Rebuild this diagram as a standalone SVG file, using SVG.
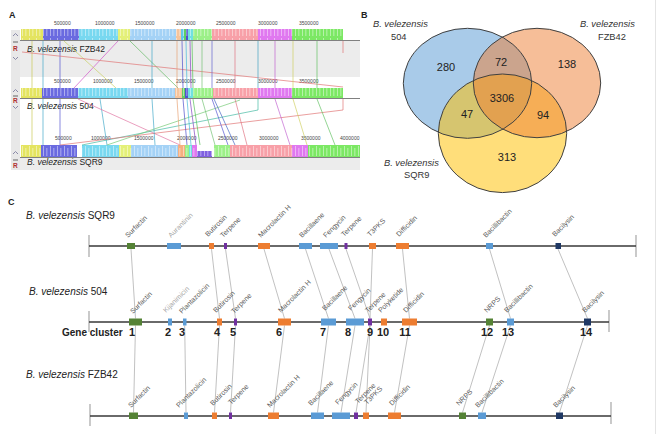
<svg xmlns="http://www.w3.org/2000/svg" width="663" height="434" viewBox="0 0 663 434">
<style>
text{font-family:"Liberation Sans",Arial,sans-serif}
.pl{font-weight:bold;font-size:9px;fill:#222}
.rl{font-size:5px;fill:#444}
.tl{font-size:8.5px;fill:#222}
.vl{font-size:9.3px;fill:#333}
.vn{font-size:11px;fill:#222;text-anchor:middle}
.sl{font-size:10px;fill:#222}
.gl{font-size:7px;fill:#595959}
.gll{font-size:7px;fill:#a6a6a6}
.num{font-size:11px;font-weight:bold;fill:#222;text-anchor:middle}
.trk{stroke:#383838;stroke-width:1.4}
.tick{stroke:#a6a6a6;stroke-width:1.2}
.cn{stroke:#a6a6a6;stroke-width:0.7;fill:none}
.g{fill:#548235}.b{fill:#5b9bd5}.o{fill:#ed7d31}.p{fill:#7030a0}.n{fill:#1f3864}
.al{fill:none;stroke-width:0.8;opacity:0.85}
.ab{stroke:none}
.aline{stroke:#606060;stroke-width:0.8}
</style>
<defs>
<pattern id="hatch" width="7" height="12" patternUnits="userSpaceOnUse">
<rect x="1" y="2" width="1" height="10" fill="#fff" opacity="0.45"/>
<rect x="4" y="4" width="1.5" height="8" fill="#fff" opacity="0.3"/>
</pattern>
</defs>
<rect width="663" height="434" fill="#fff"/>
<line x1="655.5" y1="0" x2="655.5" y2="434" stroke="#e4e4e4" stroke-width="1"/>

<!-- Panel A -->
<g id="panelA">
<text class="pl" x="9" y="18">A</text>
<rect x="11" y="30" width="9" height="140" fill="#e8e8e8"/>
<rect x="20" y="41" width="340" height="36" fill="#ececec"/>
<rect x="20" y="158" width="340" height="12" fill="#ececec"/>
<g id="ruler1" class="rl">
<text x="54" y="25">500000</text><text x="95" y="25">1000000</text><text x="135" y="25">1500000</text><text x="176" y="25">2000000</text><text x="216" y="25">2500000</text><text x="258" y="25">3000000</text><text x="299" y="25">3500000</text>
</g>
<g id="ruler2" class="rl">
<text x="54" y="83">500000</text><text x="93" y="83">1000000</text><text x="134" y="83">1500000</text><text x="176" y="83">2000000</text><text x="216" y="83">2500000</text><text x="258" y="83">3000000</text><text x="299" y="83">3500000</text>
</g>
<g id="ruler3" class="rl">
<text x="55" y="140">500000</text><text x="91" y="140">1000000</text><text x="134" y="140">1500000</text><text x="177" y="140">2000000</text><text x="218" y="140">2500000</text><text x="259" y="140">3000000</text><text x="301" y="140">3500000</text><text x="340" y="140">4000000</text>
</g>
<g id="blocks1" class="ab">
<rect x="21" y="29" width="22" height="11" fill="#e4e460"/>
<rect x="43" y="29" width="36" height="11" fill="#6a6ae0"/>
<rect x="79" y="29" width="39" height="11" fill="#78d8f0"/>
<rect x="118" y="29" width="12" height="11" fill="#e4f078"/>
<rect x="130" y="29" width="46" height="11" fill="#a4d2f6"/>
<rect x="176" y="29" width="5" height="11" fill="#f6c49c"/>
<rect x="181" y="29" width="3" height="11" fill="#60c8e8"/>
<rect x="184" y="29" width="2" height="11" fill="#60d060"/>
<rect x="186" y="29" width="2" height="11" fill="#5050d0"/>
<rect x="188" y="29" width="5" height="11" fill="#70e0e0"/>
<rect x="193" y="29" width="19" height="11" fill="#9cf088"/>
<rect x="212" y="29" width="46" height="11" fill="#f8a0a8"/>
<rect x="258" y="29" width="34" height="11" fill="#e078f0"/>
<rect x="292" y="29" width="51" height="11" fill="#7ce864"/>
<rect x="21" y="29" width="322" height="11" fill="url(#hatch)"/>
</g>
<g id="blocks2" class="ab">
<rect x="21" y="88" width="21" height="10" fill="#e4e460"/>
<rect x="42" y="88" width="36" height="10" fill="#6a6ae0"/>
<rect x="78" y="88" width="50" height="10" fill="#78d8f0"/>
<rect x="128" y="88" width="47" height="10" fill="#a4d2f6"/>
<rect x="175" y="88" width="7" height="10" fill="#f6c49c"/>
<rect x="182" y="88" width="3" height="10" fill="#60d060"/>
<rect x="185" y="88" width="3" height="10" fill="#5050d0"/>
<rect x="188" y="88" width="5" height="10" fill="#70e0e0"/>
<rect x="193" y="88" width="20" height="10" fill="#9cf088"/>
<rect x="213" y="88" width="45" height="10" fill="#f8a0a8"/>
<rect x="258" y="88" width="34" height="10" fill="#e078f0"/>
<rect x="292" y="88" width="51" height="10" fill="#7ce864"/>
<rect x="21" y="88" width="322" height="10" fill="url(#hatch)"/>
</g>
<g id="blocks3" class="ab">
<rect x="21" y="145" width="20" height="12" fill="#e4e460"/>
<rect x="41" y="145" width="36" height="12" fill="#6a6ae0"/>
<rect x="82" y="145" width="37" height="12" fill="#78d8f0"/>
<rect x="119" y="145" width="12" height="12" fill="#e4f078"/>
<rect x="131" y="145" width="47" height="12" fill="#a4d2f6"/>
<rect x="178" y="145" width="7" height="12" fill="#f6b080"/>
<rect x="185" y="145" width="4" height="12" fill="#9cf088"/>
<rect x="189" y="145" width="3" height="12" fill="#70e0e0"/>
<rect x="192" y="145" width="5" height="12" fill="#e078f0"/>
<rect x="197" y="151" width="15" height="6" fill="#8060e0"/>
<rect x="214" y="145" width="16" height="12" fill="#9cf088"/>
<rect x="230" y="145" width="62" height="12" fill="#f8a0a8"/>
<rect x="292" y="145" width="16" height="12" fill="#e078f0"/>
<rect x="308" y="145" width="52" height="12" fill="#7ce864"/>
<rect x="21" y="145" width="339" height="12" fill="url(#hatch)"/>
</g>
<line class="aline" x1="20" y1="40.5" x2="360" y2="40.5"/>
<line class="aline" x1="20" y1="98.5" x2="360" y2="98.5"/>
<line class="aline" x1="20" y1="157.5" x2="360" y2="157.5"/>
<g id="controls" fill="none" stroke="#8a8aa8" stroke-width="1">
<polyline points="13,36 15.5,33.5 18,36"/><line x1="13" y1="42" x2="18" y2="42" stroke="#666"/><polyline points="13,57 15.5,59.5 18,57"/>
<polyline points="13,92 15.5,89.5 18,92"/><line x1="13" y1="96" x2="18" y2="96" stroke="#666"/><polyline points="13,106 15.5,108.5 18,106"/>
<polyline points="13,154 15.5,151.5 18,154"/><line x1="13" y1="160" x2="18" y2="160" stroke="#666"/>
</g>
<g font-size="6.5" font-weight="bold" fill="#b03030">
<text x="13" y="51">R</text><text x="13" y="103">R</text><text x="13" y="168">R</text>
</g>
<text class="tl" x="27" y="52"><tspan font-style="italic">B. velezensis</tspan> FZB42</text>
<text class="tl" x="27" y="109"><tspan font-style="italic">B. velezensis</tspan> 504</text>
<text class="tl" x="27" y="165"><tspan font-style="italic">B. velezensis</tspan> SQR9</text>
</g>
<g id="alignment-links">
<line class="al" stroke="#c8c850" x1="32" y1="41" x2="32" y2="88"/>
<line class="al" stroke="#40a8c8" x1="43" y1="41" x2="43" y2="88"/>
<line class="al" stroke="#5050d0" x1="60" y1="41" x2="60" y2="88"/>
<line class="al" stroke="#d050c8" x1="118" y1="41" x2="74" y2="88"/>
<line class="al" stroke="#c8d060" x1="64" y1="41" x2="116" y2="88"/>
<line class="al" stroke="#60b860" x1="130" y1="41" x2="178" y2="88"/>
<line class="al" stroke="#40a8c8" x1="152" y1="41" x2="152" y2="88"/>
<line class="al" stroke="#e07070" x1="343" y1="41" x2="343" y2="53"/>
<line class="al" stroke="#e07070" x1="22" y1="52" x2="343" y2="87"/>
<line class="al" stroke="#e8a070" x1="177" y1="41" x2="177" y2="88"/>
<line class="al" stroke="#4848c8" x1="182" y1="41" x2="183" y2="88"/>
<line class="al" stroke="#40b8d8" x1="186" y1="41" x2="187" y2="88"/>
<line class="al" stroke="#8040c0" x1="190" y1="41" x2="191" y2="88"/>
<line class="al" stroke="#50c050" x1="192" y1="41" x2="193" y2="88"/>
<line class="al" stroke="#70c070" x1="202" y1="41" x2="202" y2="88"/>
<line class="al" stroke="#6060d0" x1="212" y1="41" x2="212" y2="88"/>
<line class="al" stroke="#e07080" x1="235" y1="41" x2="235" y2="88"/>
<line class="al" stroke="#40a0c0" x1="258" y1="41" x2="258" y2="88"/>
<line class="al" stroke="#c060d0" x1="275" y1="41" x2="275" y2="88"/>
<line class="al" stroke="#d0d060" x1="293" y1="41" x2="293" y2="88"/>
<line class="al" stroke="#60c060" x1="317" y1="41" x2="317" y2="88"/>

<line class="al" stroke="#c8c850" x1="32" y1="99" x2="32" y2="145"/>
<line class="al" stroke="#40a8c8" x1="43" y1="99" x2="43" y2="145"/>
<line class="al" stroke="#5050d0" x1="60" y1="99" x2="60" y2="145"/>
<line class="al" stroke="#40a8c8" x1="100" y1="99" x2="107" y2="145"/>
<line class="al" stroke="#e070a0" x1="78" y1="99" x2="180" y2="145"/>
<polyline class="al" stroke="#40b8a0" points="258,99 258,110 82,145"/>
<line class="al" stroke="#70c870" x1="240" y1="100" x2="107" y2="145"/>
<polyline class="al" stroke="#e07070" points="343,99 343,110 60,145"/>
<line class="al" stroke="#e07080" x1="235" y1="99" x2="247" y2="145"/>
<line class="al" stroke="#c060d0" x1="275" y1="99" x2="290" y2="145"/>
<line class="al" stroke="#d0d060" x1="293" y1="99" x2="307" y2="145"/>
<line class="al" stroke="#60c060" x1="317" y1="99" x2="335" y2="145"/>
<line class="al" stroke="#70c070" x1="202" y1="99" x2="215" y2="145"/>
<line class="al" stroke="#5050d0" x1="212" y1="99" x2="228" y2="145"/>
<line class="al" stroke="#4060c0" x1="214" y1="99" x2="235" y2="145"/>
<line class="al" stroke="#e8a070" x1="177" y1="99" x2="180" y2="145"/>
<line class="al" stroke="#4848c8" x1="183" y1="99" x2="187" y2="145"/>
<line class="al" stroke="#40b8d8" x1="187" y1="99" x2="191" y2="145"/>
<line class="al" stroke="#8040c0" x1="190" y1="99" x2="196" y2="145"/>
<line class="al" stroke="#50c050" x1="193" y1="99" x2="200" y2="145"/>
<line class="al" stroke="#40a8c8" x1="152" y1="99" x2="155" y2="145"/>
</g>

<!-- Panel B -->
<g id="panelB">
<text class="pl" x="361" y="18">B</text>
<g id="venn-504"><ellipse cx="467.5" cy="83.3" rx="64.2" ry="55" fill="#5b9bd5" fill-opacity="0.52"/></g>
<g id="venn-SQR9"><ellipse cx="502.5" cy="133.3" rx="64.2" ry="59.3" fill="#ffc000" fill-opacity="0.52"/></g>
<g id="venn-FZB42"><ellipse cx="537" cy="83" rx="63.7" ry="54.7" fill="#ed7d31" fill-opacity="0.5"/></g>
<g fill="none" stroke="#404040" stroke-width="1">
<ellipse cx="467.5" cy="83.3" rx="64.2" ry="55"/>
<ellipse cx="502.5" cy="133.3" rx="64.2" ry="59.3"/>
<ellipse cx="537" cy="83" rx="63.7" ry="54.7"/>
</g>
<text class="vl" x="373" y="27" font-style="italic">B. velezensis</text>
<text class="vl" x="391" y="40">504</text>
<text class="vl" x="580" y="27" font-style="italic">B. velezensis</text>
<text class="vl" x="598" y="40">FZB42</text>
<text class="vl" x="384" y="166" font-style="italic">B. velezensis</text>
<text class="vl" x="404" y="178">SQR9</text>
<text class="vn" x="446" y="71">280</text>
<text class="vn" x="501" y="66">72</text>
<text class="vn" x="567" y="68">138</text>
<text class="vn" x="502" y="102">3306</text>
<text class="vn" x="467" y="118">47</text>
<text class="vn" x="543" y="119">94</text>
<text class="vn" x="507" y="161">313</text>
</g>

<!-- Panel C -->
<g id="panelC">
<text class="pl" x="8" y="205">C</text>
<text class="sl" x="26" y="219"><tspan font-style="italic">B. velezensis</tspan> SQR9</text>
<text class="sl" x="29" y="295"><tspan font-style="italic">B. velezensis</tspan> 504</text>
<text class="sl" x="26" y="378"><tspan font-style="italic">B. velezensis</tspan> FZB42</text>
<text x="62" y="336" font-size="10" font-weight="bold" fill="#222">Gene cluster</text>
</g>

<g id="connectors">
<line class="cn" x1="131" y1="249" x2="135.5" y2="318.5"/>
<line class="cn" x1="211.5" y1="249" x2="219.5" y2="318.5"/>
<line class="cn" x1="225.5" y1="249" x2="235.5" y2="318.5"/>
<line class="cn" x1="264" y1="249" x2="284.5" y2="318.5"/>
<line class="cn" x1="305.5" y1="249" x2="328.5" y2="318.5"/>
<line class="cn" x1="329" y1="249" x2="355" y2="318.5"/>
<line class="cn" x1="346" y1="249" x2="370" y2="318.5"/>
<line class="cn" x1="372.5" y1="249" x2="370" y2="318.5"/>
<line class="cn" x1="402.5" y1="249" x2="409.5" y2="318.5"/>
<line class="cn" x1="489.5" y1="249" x2="510.5" y2="318.5"/>
<line class="cn" x1="558" y1="249" x2="587.5" y2="318.5"/>
<line class="cn" x1="135.5" y1="325.5" x2="133.5" y2="412.5"/>
<line class="cn" x1="184.7" y1="325.5" x2="186" y2="412.5"/>
<line class="cn" x1="219.5" y1="325.5" x2="214.5" y2="412.5"/>
<line class="cn" x1="235.5" y1="325.5" x2="230.5" y2="412.5"/>
<line class="cn" x1="284.5" y1="325.5" x2="273.5" y2="412.5"/>
<line class="cn" x1="328.5" y1="325.5" x2="317.5" y2="412.5"/>
<line class="cn" x1="355" y1="325.5" x2="341" y2="412.5"/>
<line class="cn" x1="370" y1="325.5" x2="356" y2="412.5"/>
<line class="cn" x1="370" y1="325.5" x2="366" y2="412.5"/>
<line class="cn" x1="409.5" y1="325.5" x2="394.5" y2="412.5"/>
<line class="cn" x1="489.5" y1="325.5" x2="462.5" y2="412.5"/>
<line class="cn" x1="510.5" y1="325.5" x2="482" y2="412.5"/>
<line class="cn" x1="587.5" y1="325.5" x2="559.5" y2="412.5"/>
</g>

<g id="row-SQR9">
<line class="tick" x1="89" y1="235" x2="89" y2="257"/>
<line class="tick" x1="636" y1="235" x2="636" y2="257"/>
<line class="trk" x1="89" y1="246" x2="636" y2="246"/>
<rect class="g" x="127" y="243" width="8" height="6"/>
<rect class="b" x="167" y="243" width="14" height="6"/>
<rect class="o" x="209" y="243" width="5" height="6"/>
<rect class="p" x="224" y="243" width="3" height="6"/>
<rect class="o" x="258" y="243" width="12" height="6"/>
<rect class="b" x="299" y="243" width="13" height="6"/>
<rect class="b" x="320" y="243" width="18" height="6"/>
<rect class="p" x="344.5" y="243" width="3" height="6"/>
<rect class="o" x="369" y="243" width="7" height="6"/>
<rect class="o" x="396" y="243" width="13" height="6"/>
<rect class="b" x="486" y="243" width="7" height="6"/>
<rect class="n" x="555.5" y="243" width="5.5" height="6"/>
<text class="gl" transform="translate(128,238) rotate(-45)">Surfactin</text>
<text class="gll" transform="translate(171,238) rotate(-45)">Aurantinin</text>
<text class="gl" transform="translate(208,237) rotate(-45)">Butirosin</text>
<text class="gl" transform="translate(223,238) rotate(-45)">Terpene</text>
<text class="gl" transform="translate(261,238) rotate(-45)">Macrolactin H</text>
<text class="gl" transform="translate(302,238) rotate(-45)">Bacillaene</text>
<text class="gl" transform="translate(326,238) rotate(-45)">Fengycin</text>
<text class="gl" transform="translate(344,237) rotate(-45)">Terpene</text>
<text class="gl" transform="translate(370,237) rotate(-45)">T3PKS</text>
<text class="gl" transform="translate(399,237) rotate(-45)">Difficidin</text>
<text class="gl" transform="translate(486,238) rotate(-45)">Bacillibactin</text>
<text class="gl" transform="translate(555,237) rotate(-45)">Bacilysin</text>
</g>

<g id="row-504">
<line class="tick" x1="89" y1="311" x2="89" y2="332"/>
<line class="tick" x1="609" y1="310" x2="609" y2="332"/>
<line class="trk" x1="89" y1="322" x2="609" y2="322"/>
<rect class="g" x="129" y="318.5" width="13" height="7"/>
<rect class="b" x="168" y="318.5" width="4" height="7"/>
<rect class="b" x="183" y="318.5" width="3.5" height="7"/>
<rect class="o" x="217" y="318.5" width="5" height="7"/>
<rect class="p" x="234" y="318.5" width="3" height="7"/>
<rect class="o" x="278" y="318.5" width="13" height="7"/>
<rect class="b" x="321" y="318.5" width="15" height="7"/>
<rect class="b" x="346" y="318.5" width="18" height="7"/>
<rect class="p" x="368" y="318.5" width="4" height="7"/>
<rect class="o" x="381" y="318.5" width="6" height="7"/>
<rect class="o" x="402" y="318.5" width="15" height="7"/>
<rect class="g" x="486" y="318.5" width="7" height="7"/>
<rect class="b" x="507" y="318.5" width="7" height="7"/>
<rect class="n" x="584" y="318.5" width="7" height="7"/>
<text class="gl" transform="translate(133,314) rotate(-45)">Surfactin</text>
<text class="gll" transform="translate(166,313) rotate(-45)">Kijanimicin</text>
<text class="gl" transform="translate(182,314) rotate(-45)">Plantazolicin</text>
<text class="gl" transform="translate(216,313) rotate(-45)">Butirosin</text>
<text class="gl" transform="translate(234,314) rotate(-45)">Terpene</text>
<text class="gl" transform="translate(281,313) rotate(-45)">Macrolactin H</text>
<text class="gl" transform="translate(325,311) rotate(-45)">Bacillaene</text>
<text class="gl" transform="translate(351,311) rotate(-45)">Fengycin</text>
<text class="gl" transform="translate(368,313) rotate(-45)">Terpene</text>
<text class="gl" transform="translate(381,313) rotate(-45)">Polyketide</text>
<text class="gl" transform="translate(406,313) rotate(-45)">Difficidin</text>
<text class="gl" transform="translate(487,313) rotate(-45)">NRPS</text>
<text class="gl" transform="translate(507,313) rotate(-45)">Bacillibactin</text>
<text class="gl" transform="translate(585,313) rotate(-45)">Bacilysin</text>
<text class="num" x="132" y="336">1</text>
<text class="num" x="168" y="336">2</text>
<text class="num" x="182" y="336">3</text>
<text class="num" x="217" y="336">4</text>
<text class="num" x="233" y="336">5</text>
<text class="num" x="279" y="336">6</text>
<text class="num" x="323" y="336">7</text>
<text class="num" x="348" y="336">8</text>
<text class="num" x="370" y="336">9</text>
<text class="num" x="383" y="336">10</text>
<text class="num" x="405" y="336">11</text>
<text class="num" x="487" y="336">12</text>
<text class="num" x="508" y="336">13</text>
<text class="num" x="586" y="336">14</text>
</g>

<g id="row-FZB42">
<line class="tick" x1="90" y1="404" x2="90" y2="426"/>
<line class="tick" x1="611" y1="402" x2="611" y2="424"/>
<line class="trk" x1="90" y1="416" x2="611" y2="416"/>
<rect class="g" x="129" y="412.5" width="9" height="6.5"/>
<rect class="b" x="184" y="412.5" width="4" height="6.5"/>
<rect class="o" x="212" y="412.5" width="5" height="6.5"/>
<rect class="p" x="229" y="412.5" width="3" height="6.5"/>
<rect class="o" x="268" y="412.5" width="11" height="6.5"/>
<rect class="b" x="311" y="412.5" width="13" height="6.5"/>
<rect class="b" x="332" y="412.5" width="18" height="6.5"/>
<rect class="p" x="354" y="412.5" width="4" height="6.5"/>
<rect class="o" x="363" y="412.5" width="6" height="6.5"/>
<rect class="o" x="388" y="412.5" width="13" height="6.5"/>
<rect class="g" x="459" y="412.5" width="7" height="6.5"/>
<rect class="b" x="478" y="412.5" width="8" height="6.5"/>
<rect class="n" x="556" y="412.5" width="7" height="6.5"/>
<text class="gl" transform="translate(131,408) rotate(-45)">Surfactin</text>
<text class="gl" transform="translate(179,408) rotate(-45)">Plantazolicin</text>
<text class="gl" transform="translate(213,406) rotate(-45)">Butirosin</text>
<text class="gl" transform="translate(231,405) rotate(-45)">Terpene</text>
<text class="gl" transform="translate(270,408) rotate(-45)">Macrolactin H</text>
<text class="gl" transform="translate(311,406) rotate(-45)">Bacillaene</text>
<text class="gl" transform="translate(338,405) rotate(-45)">Fengycin</text>
<text class="gl" font-size="5" transform="translate(358,404) rotate(-45)">Terpene</text>
<text class="gl" transform="translate(367,405) rotate(-45)">T3PKS</text>
<text class="gl" transform="translate(392,406) rotate(-45)">Difficidin</text>
<text class="gl" transform="translate(459,406) rotate(-45)">NRPS</text>
<text class="gl" transform="translate(478,408) rotate(-45)">Bacillibactin</text>
<text class="gl" transform="translate(556,408) rotate(-45)">Bacilysin</text>
</g>
</svg>
